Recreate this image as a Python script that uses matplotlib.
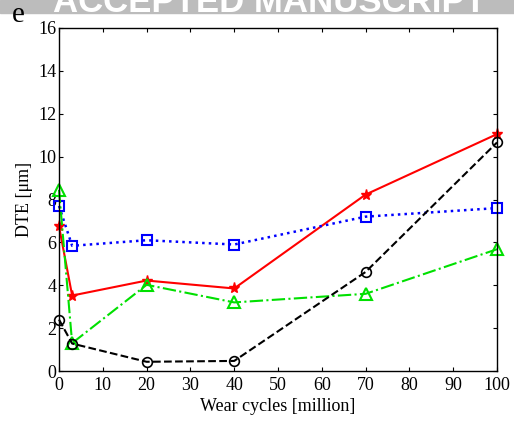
import matplotlib
matplotlib.use('Agg')
import matplotlib.pyplot as plt
from matplotlib.patches import Rectangle

# wear cycles [million]
cycles = [0, 3, 20, 40, 70, 100]
# DTE [um] for the four samples
dte_red = [6.75, 3.52, 4.22, 3.85, 8.23, 11.05]
dte_blue = [7.7, 5.84, 6.1, 5.9, 7.2, 7.6]
dte_green = [8.45, 1.3, 4.02, 3.2, 3.6, 5.68]
dte_black = [2.4, 1.28, 0.43, 0.47, 4.62, 10.66]

xticks = list(range(0, 101, 10))
yticks = list(range(0, 17, 2))

plt.rcParams['font.family'] = ['Liberation Serif', 'DejaVu Serif']

fig = plt.figure(figsize=(5.14, 4.25), dpi=100)
ax = fig.add_axes([59/514, 54/425, 438/514, 343/425])

ax.plot(cycles, dte_red, '-', color='red', marker='*', ms=8, mfc='red', mec='red', lw=1.5, clip_on=False)
ax.plot(cycles, dte_blue, ':', color='blue', marker='s', ms=7, mfc='none', mec='blue', mew=1.5, lw=1.8, clip_on=False)
ax.plot(cycles, dte_green, '-.', color='#00e000', marker='^', ms=8, mfc='none', mec='#00e000', mew=1.5, lw=1.5, clip_on=False)
ax.plot(cycles, dte_black, '--', color='black', marker='o', ms=7, mfc='none', mec='black', mew=1.2, lw=1.5, clip_on=False)

ax.set_xlim(0, 100)
ax.set_ylim(0, 16)
ax.set_xticks(xticks)
ax.set_yticks(yticks)
ax.tick_params(direction='in', top=True, right=True, length=3, labelsize=13, pad=2)
ax.tick_params(axis='x', pad=4)
ax.set_xlabel('Wear cycles [million]', fontsize=13, labelpad=3)
ax.set_ylabel('DTE [\u03bcm]', fontsize=13, labelpad=4)
for s in ax.spines.values():
    s.set_linewidth(1.0)

# manuscript banner across the top
fig.patches.append(Rectangle((0, 1 - 13/425), 1, 13/425, transform=fig.transFigure,
                             color='#bcbcbc', zorder=0))
fig.text(0.525, 1 - 12/425, 'ACCEPTED MANUSCRIPT', family='Liberation Sans', weight='bold',
         fontsize=25, color='white', ha='center', va='baseline')
fig.text(12/514, 1 - 22/425, 'e', fontsize=21, va='baseline')

fig.savefig('out.png', dpi=100)
